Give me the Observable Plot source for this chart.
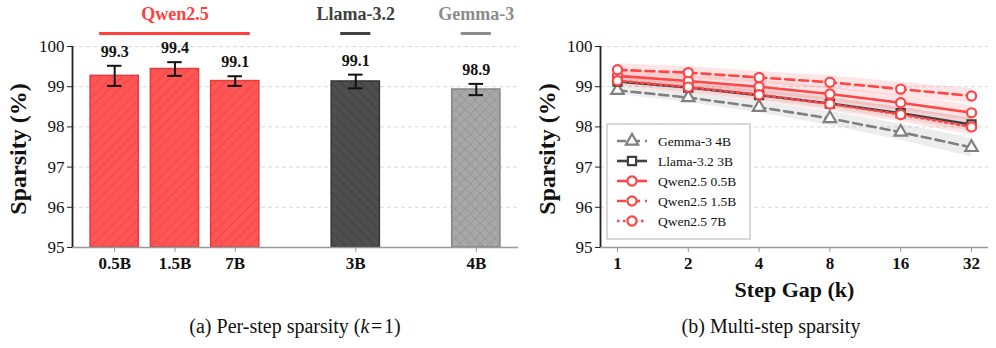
<!DOCTYPE html>
<html>
<head>
<meta charset="utf-8">
<script src="https://cdn.jsdelivr.net/npm/d3@7"></script>
<script src="https://cdn.jsdelivr.net/npm/@observablehq/plot@0.6"></script>
<style>
  html, body { margin: 0; padding: 0; background: #fff; }
  #wrap { position: relative; width: 996px; height: 348px; overflow: hidden; background: #fff;
          font-family: "Liberation Serif", "DejaVu Serif", serif; }
  #wrap svg { position: absolute; top: 0; overflow: visible; font-family: "Liberation Serif", "DejaVu Serif", serif; }
  #wrap svg text { font-family: "Liberation Serif", "DejaVu Serif", serif !important; font-variant: normal !important; }
  .cap { position: absolute; top: 313px; font-size: 20px; color: #111; white-space: nowrap; transform: translateX(-50%); line-height: 26px; }
</style>
</head>
<body>
<div id="wrap"></div>
<script>
// ---------- Panel (a) data ----------
const models      = ["0.5B", "1.5B", "7B", "3B", "4B"];
const families    = ["Qwen2.5", "Qwen2.5", "Qwen2.5", "Llama-3.2", "Gemma-3"];
const sparsity    = [99.27, 99.44, 99.14, 99.13, 98.93];
const sparsityErr = [0.25, 0.17, 0.12, 0.17, 0.14];
const familyOrder = ["Qwen2.5", "Llama-3.2", "Gemma-3"];
const yTicks      = [95, 96, 97, 98, 99, 100];

// ---------- Panel (b) data ----------
const gaps        = [1, 2, 4, 8, 16, 32];
const seriesNames = ["Gemma-3 4B", "Llama-3.2 3B", "Qwen2.5 0.5B", "Qwen2.5 1.5B", "Qwen2.5 7B"];
const gemma4B     = [98.91, 98.73, 98.49, 98.21, 97.87, 97.49];
const llama3B     = [99.13, 98.98, 98.79, 98.58, 98.34, 98.06];
const qwen05B     = [99.27, 99.14, 99.00, 98.82, 98.60, 98.35];
const qwen15B     = [99.42, 99.35, 99.23, 99.11, 98.94, 98.77];
const qwen7B      = [99.15, 98.99, 98.80, 98.57, 98.31, 98.00];
const gemma4BStd  = [0.10, 0.12, 0.14, 0.17, 0.20, 0.23];
const llama3BStd  = [0.10, 0.11, 0.12, 0.13, 0.15, 0.17];
const qwen05BStd  = [0.15, 0.15, 0.16, 0.17, 0.18, 0.19];
const qwen15BStd  = [0.15, 0.15, 0.15, 0.16, 0.17, 0.18];
const qwen7BStd   = [0.14, 0.15, 0.16, 0.17, 0.18, 0.20];

// ---------- styles ----------
const RED = "#ff4545";
const famStyle = {
  "Qwen2.5":   {text: "#ff4040", fill: "url(#hatch-qwen)",  edge: "#e23d3d"},
  "Llama-3.2": {text: "#404040", fill: "url(#hatch-llama)", edge: "#333333"},
  "Gemma-3":   {text: "#8c8c8c", fill: "url(#hatch-gemma)", edge: "#858585"}
};
const serStyle = {
  "Gemma-3 4B":   {color: "#808080", dash: "9,5",   symbol: "triangle", band: "#808080"},
  "Llama-3.2 3B": {color: "#404040", dash: null,    symbol: "square",   band: "#808080"},
  "Qwen2.5 0.5B": {color: RED,       dash: null,    symbol: "circle",   band: RED},
  "Qwen2.5 1.5B": {color: RED,       dash: "9,5",   symbol: "circle",   band: RED},
  "Qwen2.5 7B":   {color: RED,       dash: "2.5,3.5", symbol: "circle", band: RED}
};

// slot positions: one blank slot between families
let slots = [];
models.forEach((m, i) => {
  const gi = familyOrder.indexOf(families[i]);
  slots.push(i + gi);
});
const bars = models.map((m, i) => ({
  model: m, family: families[i], slot: slots[i], v: sparsity[i], e: sparsityErr[i]
}));
const groups = familyOrder.map(f => {
  const s = bars.filter(b => b.family === f).map(b => b.slot);
  return {family: f, first: d3.min(s), last: d3.max(s), mid: (d3.min(s) + d3.max(s)) / 2};
});
const slotName = new Map(bars.map(b => [b.slot, b.model]));

const FONT = '"Liberation Serif", "DejaVu Serif", serif';
const wrap = document.getElementById("wrap");

// ---------- Panel (a) ----------
const left = Plot.plot({
  width: 530, height: 290,
  marginLeft: 72, marginRight: 12, marginTop: 46, marginBottom: 43,
  style: {fontFamily: FONT, fontSize: "16px", background: "transparent"},
  x: {type: "linear", domain: [-0.7, 6.7], axis: null},
  y: {domain: [95, 100], axis: null},
  color: {type: "identity"},
  marks: [
    Plot.gridY(yTicks, {stroke: "#d9d9d9", strokeOpacity: 1, strokeDasharray: "4,3", strokeWidth: 1}),
    Plot.rect(bars, {x1: d => d.slot - 0.4, x2: d => d.slot + 0.4, y1: 95, y2: "v",
      fill: d => famStyle[d.family].fill, stroke: d => famStyle[d.family].edge, strokeWidth: 1.5}),
    Plot.ruleX(bars, {x: "slot", y1: d => d.v - d.e, y2: d => d.v + d.e, stroke: "#111", strokeWidth: 2}),
    Plot.ruleY(bars, {x1: d => d.slot - 0.12, x2: d => d.slot + 0.12, y: d => d.v + d.e, stroke: "#111", strokeWidth: 2}),
    Plot.ruleY(bars, {x1: d => d.slot - 0.12, x2: d => d.slot + 0.12, y: d => d.v - d.e, stroke: "#111", strokeWidth: 2}),
    Plot.text(bars, {x: "slot", y: d => d.v + d.e, text: d => d.v.toFixed(1), dy: -14,
      fontWeight: "bold", fontSize: 16, fill: "#111"}),
    Plot.text(groups, {x: "mid", y: 100, text: "family", dy: -32, fontWeight: "bold", fontSize: 18,
      fill: d => famStyle[d.family].text}),
    Plot.ruleY(groups, {x1: d => d.first - 0.25, x2: d => d.last + 0.25, y: 100, dy: -13,
      stroke: d => famStyle[d.family].text, strokeWidth: 3}),
    Plot.ruleY([95], {stroke: "#999", strokeWidth: 1.5}),
    Plot.ruleX([-0.7], {stroke: "#222", strokeWidth: 1.8}),
    Plot.axisY({ticks: yTicks, tickFormat: d => String(d), tickSize: 5, tickPadding: 3, fontSize: 17,
      stroke: "#222", fill: "#111", label: null}),
    Plot.axisX({ticks: slots, tickFormat: d => slotName.get(d), tickSize: 5, tickPadding: 4,
      fontSize: 17, fontWeight: "bold", stroke: "#999", fill: "#111", label: null}),
    Plot.text(["Sparsity (%)"], {frameAnchor: "left", rotate: -90, dx: -54, dy: 2,
      textAnchor: "middle", lineAnchor: "middle", fontWeight: "bold", fontSize: 24, fill: "#111"})
  ]
});
left.style.left = "0px";
left.insertAdjacentHTML("afterbegin", `
<defs>
  <pattern id="hatch-qwen" patternUnits="userSpaceOnUse" width="7" height="7" patternTransform="rotate(45)">
    <rect width="7" height="7" fill="#ff5555"/>
    <line x1="0" y1="0" x2="0" y2="7" stroke="#e03e3e" stroke-width="1.2"/>
  </pattern>
  <pattern id="hatch-llama" patternUnits="userSpaceOnUse" width="7" height="7" patternTransform="rotate(-45)">
    <rect width="7" height="7" fill="#4e4e4e"/>
    <line x1="0" y1="0" x2="0" y2="7" stroke="#363636" stroke-width="1.2"/>
  </pattern>
  <pattern id="hatch-gemma" patternUnits="userSpaceOnUse" width="7" height="7" patternTransform="rotate(45)">
    <rect width="7" height="7" fill="#a8a8a8"/>
    <line x1="0" y1="0" x2="0" y2="7" stroke="#8a8a8a" stroke-width="1"/>
    <line x1="0" y1="0" x2="7" y2="0" stroke="#8a8a8a" stroke-width="1"/>
  </pattern>
</defs>`);
wrap.appendChild(left);

// ---------- Panel (b) ----------
const seriesVals = [gemma4B, llama3B, qwen05B, qwen15B, qwen7B];
const seriesStd  = [gemma4BStd, llama3BStd, qwen05BStd, qwen15BStd, qwen7BStd];
const long = [];
seriesNames.forEach((s, si) => gaps.forEach((k, i) => long.push({
  series: s, k, v: seriesVals[si][i], sd: seriesStd[si][i]
})));

const xMin = 2 ** -0.24, xMax = 2 ** 5.24;
const marksB = [
  Plot.gridY(yTicks, {stroke: "#d9d9d9", strokeOpacity: 1, strokeDasharray: "4,3", strokeWidth: 1}),
  Plot.areaY(long, {x: "k", y1: d => d.v - d.sd, y2: d => d.v + d.sd, z: "series",
    fill: d => serStyle[d.series].band, fillOpacity: 0.14})
];
seriesNames.forEach(s => {
  const st = serStyle[s];
  marksB.push(Plot.line(long.filter(d => d.series === s), {x: "k", y: "v", stroke: st.color,
    strokeWidth: 2.6, strokeDasharray: st.dash || undefined}));
});
seriesNames.forEach(s => {
  const st = serStyle[s];
  marksB.push(Plot.dot(long.filter(d => d.series === s), {x: "k", y: "v", symbol: st.symbol, r: 4.6,
    fill: "white", stroke: st.color, strokeWidth: 2.2}));
});
marksB.push(
  Plot.ruleY([95], {stroke: "#999", strokeWidth: 1.5}),
  Plot.ruleX([xMin], {stroke: "#222", strokeWidth: 1.8}),
  Plot.axisY({ticks: yTicks, tickFormat: d => String(d), tickSize: 5, tickPadding: 3, fontSize: 17,
    stroke: "#222", fill: "#111", label: null}),
  Plot.axisX({ticks: gaps, tickFormat: d => String(d), tickSize: 5, tickPadding: 4,
    fontSize: 17, fontWeight: "bold", stroke: "#999", fill: "#111", label: null}),
  Plot.text(["Sparsity (%)"], {frameAnchor: "left", rotate: -90, dx: -53, dy: 2,
    textAnchor: "middle", lineAnchor: "middle", fontWeight: "bold", fontSize: 24, fill: "#111"}),
  Plot.text(["Step Gap (k)"], {frameAnchor: "bottom", dy: 42, lineAnchor: "middle",
    fontWeight: "bold", fontSize: 22, fill: "#111"})
);

const right = Plot.plot({
  width: 466, height: 310,
  marginLeft: 70, marginRight: 8, marginTop: 46, marginBottom: 63,
  style: {fontFamily: FONT, fontSize: "16px", background: "transparent"},
  x: {type: "log", base: 2, domain: [xMin, xMax], axis: null},
  y: {domain: [95, 100], axis: null},
  color: {type: "identity"},
  symbol: {type: "identity"},
  marks: marksB
});
right.style.left = "530px";
wrap.appendChild(right);

// legend (built with d3 inside panel b)
const symMap = {circle: d3.symbolCircle, square: d3.symbolSquare, triangle: d3.symbolTriangle};
const lg = d3.select(right).append("g").attr("transform", "translate(77,124)");
lg.append("rect").attr("width", 143).attr("height", 115).attr("fill", "white").attr("fill-opacity", 0.85)
  .attr("stroke", "#c4c4c4").attr("stroke-width", 1.3);
seriesNames.forEach((s, i) => {
  const st = serStyle[s];
  const g = lg.append("g").attr("transform", `translate(0,${17 + i * 20})`);
  g.append("line").attr("x1", 10).attr("x2", 40).attr("y1", 0).attr("y2", 0)
    .attr("stroke", st.color).attr("stroke-width", 2.6)
    .attr("stroke-dasharray", st.dash || null);
  g.append("path").attr("d", d3.symbol(symMap[st.symbol], Math.PI * 4.6 * 4.6)())
    .attr("transform", "translate(25,0)").attr("fill", "white").attr("stroke", st.color).attr("stroke-width", 2.2);
  g.append("text").attr("x", 51).attr("dy", "0.35em").attr("font-size", 13.5).attr("fill", "#111")
    .attr("text-anchor", "start").attr("font-family", FONT).text(s);
});

// captions
const capA = document.createElement("div");
capA.className = "cap"; capA.style.left = "295px";
capA.innerHTML = "(a) Per-step sparsity (<i>k</i>&#8202;=&#8202;1)";
wrap.appendChild(capA);
const capB = document.createElement("div");
capB.className = "cap"; capB.style.left = "771px";
capB.textContent = "(b) Multi-step sparsity";
wrap.appendChild(capB);
</script>
</body>
</html>
